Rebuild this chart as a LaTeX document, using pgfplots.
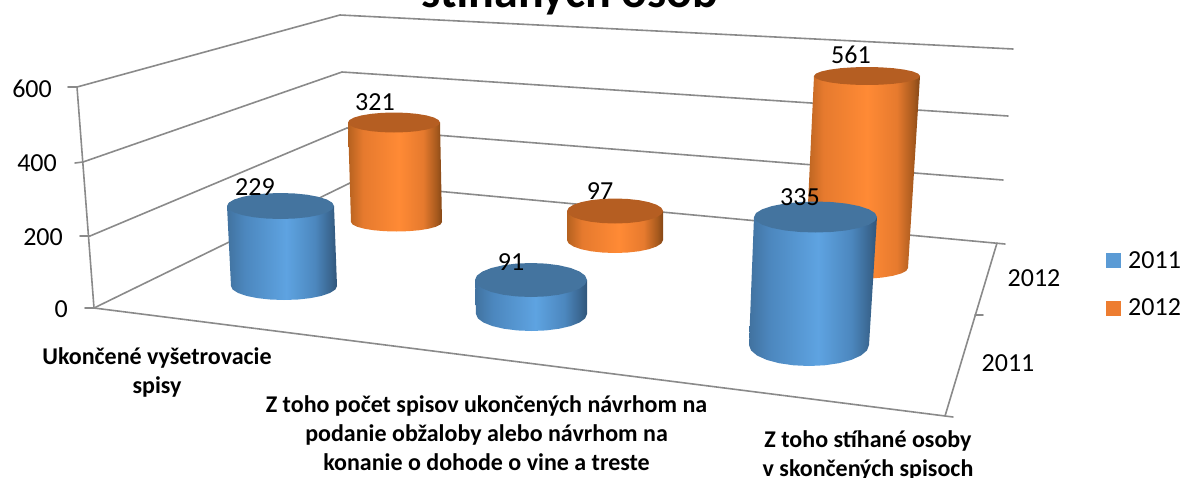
\documentclass[border=0pt]{standalone}
\usepackage{pgfplots}
\usepackage{pgfplotstable}
\usepackage{fontspec}
\setmainfont{Carlito}
\pgfplotsset{compat=1.18}
\definecolor{gridc}{HTML}{8A8A8A}
\definecolor{bA}{HTML}{41729F}\definecolor{bB}{HTML}{4C87BE}\definecolor{bC}{HTML}{5EA3E1}\definecolor{bD}{HTML}{3A6690}\definecolor{bE}{HTML}{30567A}
\definecolor{oA}{HTML}{B5611F}\definecolor{oB}{HTML}{E67A2E}\definecolor{oC}{HTML}{FF8A35}\definecolor{oD}{HTML}{A85A1E}\definecolor{oE}{HTML}{854716}
\definecolor{topb}{HTML}{44749F}\definecolor{topo}{HTML}{B55E22}
\definecolor{legb}{HTML}{5B9BD5}\definecolor{lego}{HTML}{ED7D31}
\pgfdeclarehorizontalshading{cylblue}{100bp}{color(0bp)=(bA); color(25bp)=(bA); color(33bp)=(bB); color(52bp)=(bC); color(65bp)=(bB); color(72bp)=(bD); color(75bp)=(bE); color(100bp)=(bE)}
\pgfdeclarehorizontalshading{cylorange}{100bp}{color(0bp)=(oA); color(25bp)=(oA); color(33bp)=(oB); color(52bp)=(oC); color(65bp)=(oB); color(72bp)=(oD); color(75bp)=(oE); color(100bp)=(oE)}
% outline of a cylinder side, t=1 top rim, t=0 bottom rim
\pgfplotstableread{
t u v
1 -1 0
0 -1 0
0 -0.966 0.259
0 -0.866 0.5
0 -0.707 0.707
0 -0.5 0.866
0 -0.259 0.966
0 0 1
0 0.259 0.966
0 0.5 0.866
0 0.707 0.707
0 0.866 0.5
0 0.966 0.259
0 1 0
1 1 0
}\bodyoutline
\pgfplotstableread{
u v
-1 0
-0.966 0.259
-0.866 0.5
-0.707 0.707
-0.5 0.866
-0.259 0.966
0 1
0.259 0.966
0.5 0.866
0.707 0.707
0.866 0.5
0.966 0.259
1 0
0.966 -0.259
0.866 -0.5
0.707 -0.707
0.5 -0.866
0.259 -0.966
0 -1
-0.259 -0.966
-0.5 -0.866
-0.707 -0.707
-0.866 -0.5
-0.966 -0.259
-1 0
}\topoutline
% value labels placed over the cylinders
\pgfplotstableread{
x y value
255 187 229
511 262 91
800 197 335
}\seriesA
\pgfplotstableread{
x y value
375 102 321
600 191 97
851 55 561
}\seriesB
% #1-#4 top cx cy a b; #5-#8 bottom cx cy a b; #9 shading
\newcommand\cylbody[9]{%
\addplot[draw=none,shade,shading=#9] table[
 x expr={\thisrow{t}*(#1)+(1-\thisrow{t})*(#5)+\thisrow{u}*(\thisrow{t}*(#3)+(1-\thisrow{t})*(#7))},
 y expr={\thisrow{t}*(#2)+(1-\thisrow{t})*(#6)+\thisrow{v}*(\thisrow{t}*(#4)+(1-\thisrow{t})*(#8))}] {\bodyoutline} --cycle;}
\newcommand\cyltop[5]{%
\addplot[draw=none,fill=#5] table[
 x expr={(#1)+\thisrow{u}*(#3)},
 y expr={(#2)+\thisrow{v}*(#4)}] {\topoutline} --cycle;}
\begin{document}
\begin{tikzpicture}
\useasboundingbox (0,0) rectangle (1183pt,477pt);
\clip (0,0) rectangle (1183pt,477pt);
\begin{axis}[hide axis,scale only axis,width=1183pt,height=477pt,
 xmin=0,xmax=1183,ymin=0,ymax=477,y dir=reverse,clip=false,
 every axis plot/.append style={line cap=round}]
% walls and grid
\addplot[gridc,line width=1.6pt] coordinates {(68,87) (77,87) (94,308) (85,308)};
\addplot[gridc,line width=1.6pt] coordinates {(75,163) (83,162)};
\addplot[gridc,line width=1.6pt] coordinates {(80,236) (90,236)};
\addplot[gridc,line width=1.6pt] coordinates {(77,87) (340,15) (1013,49)};
\addplot[gridc,line width=1.6pt] coordinates {(83,162) (342,72) (1008,116)};
\addplot[gridc,line width=1.6pt] coordinates {(90,236) (347,128) (1003,180)};
\addplot[gridc,line width=1.6pt] coordinates {(94,308) (350,183) (1005,244)};
\addplot[gridc,line width=1.6pt] coordinates {(94,308) (953,417)};
\addplot[gridc,line width=1.6pt] coordinates {(945,416) (997,243)};
\addplot[gridc,line width=1.6pt] coordinates {(975,315) (983,315)};
% 2012 cylinders
\cylbody{394}{122.5}{46}{10}{396.5}{222}{45.5}{9.5}{cylorange}
\cyltop{394}{122.5}{46}{10}{topo}
\cylbody{615}{211}{48}{12.5}{615}{240}{48}{13}{cylorange}
\cyltop{615}{211}{48}{12.5}{topo}
\cylbody{867}{76}{53}{9}{856.5}{268}{51.5}{11}{cylorange}
\cyltop{867}{76}{53}{9}{topo}
% 2011 cylinders
\cylbody{280.5}{206}{53.5}{13}{284}{286}{53}{14}{cylblue}
\cyltop{280.5}{206}{53.5}{13}{topb}
\cylbody{531}{280}{56}{17}{531.5}{314}{55.5}{17}{cylblue}
\cyltop{531}{280}{56}{17}{topb}
\cylbody{815.5}{217}{61.5}{15.5}{809}{345}{60}{21}{cylblue}
\cyltop{815.5}{217}{61.5}{15.5}{topb}
% data labels
\addplot[draw=none,nodes near coords,point meta=explicit symbolic,
 every node near coord/.style={anchor=center,inner sep=0pt,font=\fontsize{26}{28}\selectfont,text=black}]
 table[x=x,y=y,meta=value] {\seriesA};
\addplot[draw=none,nodes near coords,point meta=explicit symbolic,
 every node near coord/.style={anchor=center,inner sep=0pt,font=\fontsize{26}{28}\selectfont,text=black}]
 table[x=x,y=y,meta=value] {\seriesB};
% legend keys
\addplot[draw=none,fill=legb] coordinates {(1106,253) (1121,253) (1121,268) (1106,268)} --cycle;
\addplot[draw=none,fill=lego] coordinates {(1106,301) (1121,301) (1121,316) (1106,316)} --cycle;
% texts
\tikzset{lab/.style={inner sep=0pt,font=\fontsize{26}{28}\selectfont},
 cat/.style={inner sep=0pt,align=center,font=\fontsize{24}{29}\selectfont\bfseries}}
\node[lab,anchor=base east] at (axis cs:52,97) {600};
\node[lab,anchor=base east] at (axis cs:57,171) {400};
\node[lab,anchor=base east] at (axis cs:63,245) {200};
\node[lab,anchor=base east] at (axis cs:68,317) {0};
\node[lab] at (axis cs:1034,278) {2012};
\node[lab] at (axis cs:1008,363) {2011};
\node[lab,anchor=west] at (axis cs:1128,260) {2011};
\node[lab,anchor=west] at (axis cs:1128,307) {2012};
\node[cat] at (axis cs:157,372) {Ukončené vyšetrovacie\\spisy};
\node[cat] at (axis cs:486.5,433) {Z toho počet spisov ukončených návrhom na\\podanie obžaloby alebo návrhom na\\konanie o dohode o vine a treste};
\node[cat] at (axis cs:868,455) {Z toho stíhané osoby\\v skončených spisoch};
\node[anchor=base,inner sep=0pt,font=\fontsize{48}{50}\selectfont\bfseries] at (axis cs:570,7) {stíhaných osôb};
\end{axis}
\end{tikzpicture}
\end{document}
